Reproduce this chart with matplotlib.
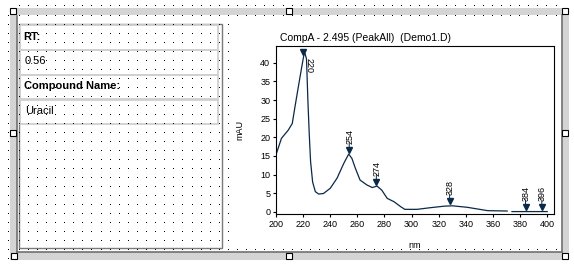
import numpy as np
import matplotlib
matplotlib.use('Agg')
import matplotlib.pyplot as plt
import matplotlib.transforms as mtransforms
from matplotlib.patches import Rectangle

plt.rcParams['font.family'] = ['Liberation Sans', 'DejaVu Sans']

# spectrum (nm, mAU); nan = small gap in the trace
wavelength = [200, 204, 209, 212, 214, 216.5, 219, 221, 222.5, 223.5, 224.5,
              225.5, 227, 229, 231.5, 235, 240, 245, 250, 253.6, 256, 258.6,
              262, 267, 271, 274.5, 278, 282, 287, 292, 295, 304, 314, 324,
              330, 341, 356, 370.5, 372, 374, 385, 400]
absorbance = [15.3, 19.7, 21.9, 23.7, 28.2, 33.6, 38.9, 43.0, 41.0, 30.0, 21.0,
              13.5, 8.0, 5.4, 4.75, 4.9, 6.3, 9.0, 13.0, 15.5, 14.3, 11.6,
              8.5, 7.2, 6.5, 6.9, 5.8, 3.6, 2.7, 1.35, 0.65, 0.65, 1.1, 1.5,
              1.6, 1.2, 0.3, 0.2, np.nan, 0.05, 0.05, 0.05]

peak_nm = [220, 254, 274, 328, 384, 396]
peak_val = [43.0, 15.5, 6.9, 1.6, 0.05, 0.05]
peak_label = ['220', '254', '274', '328', '384', '396']

x_ticks = list(range(200, 401, 20))
y_ticks = list(range(0, 41, 5))

title = 'CompA - 2.495 (PeakAll)  (Demo1.D)'
fields = ['RT:', '0.56', 'Compound Name:', 'Uracil']

W, H = 574, 266
fig = plt.figure(figsize=(W / 100, H / 100), dpi=100)
fig.patch.set_facecolor('white')

# background canvas in pixel coords
bg = fig.add_axes([0, 0, 1, 1])
bg.set_xlim(0, W)
bg.set_ylim(H, 0)
bg.axis('off')

gray = '#d4d4d4'
dark = '#707070'

# dotted design grid
cols = np.arange(18.7, 561, 9.1)
rows = np.arange(16.3, 252, 9.0)
dx, dy = [], []
for yy in rows:
    for xx in cols:
        if xx > 234 and 17 < yy < 245:
            continue
        dx.append(xx)
        dy.append(yy)
# margins outside the frame
for xx in cols:
    dx.append(xx)
    dy.append(6)
for yy in np.arange(16.3, 262, 9.0):
    dx.append(8)
    dy.append(yy)
bg.plot(dx, dy, ',', color='black')

# frame bands
bg.add_patch(Rectangle((10, 8), 559, 7, color=gray, lw=0))
bg.add_patch(Rectangle((10, 8), 7, 252, color=gray, lw=0))
bg.add_patch(Rectangle((562, 8), 7, 252, color=gray, lw=0))
bg.add_patch(Rectangle((10, 252), 559, 8, color=gray, lw=0))
bg.plot([16.8, 16.8], [16, 252], color=dark, lw=1.2)
bg.plot([16.8, 562], [251.8, 251.8], color=dark, lw=1.2)
bg.plot([561.8, 561.8], [15, 252], color=dark, lw=1.2)

# selection handles
for hx, hy in [(13, 11), (288.7, 11), (565, 11), (13.3, 133), (565, 133),
               (13.5, 255.5), (288.7, 256), (565, 256)]:
    bg.add_patch(Rectangle((hx - 3, hy - 3), 6, 6, facecolor='white',
                           edgecolor='black', lw=0.8, zorder=5))

# left info panel
bg.add_patch(Rectangle((19, 24), 202.5, 224, fill=False, edgecolor='#7a7a7a', lw=1.0))
row_top = [25, 50, 74.5, 99.5]
for i, txt in enumerate(fields):
    bg.add_patch(Rectangle((20.3, row_top[i]), 198, 24.5, fill=False,
                           edgecolor='#d0d0d0', lw=1.3))
    bold = i % 2 == 0
    bg.text(23.5 if bold else 25, row_top[i] + 11.5, txt, fontsize=8,
            fontweight='bold' if bold else 'normal', va='center', ha='left')

# chart texts
bg.text(280, 41, title, fontsize=7.5, ha='left', va='baseline')
bg.text(240, 130, 'mAU', fontsize=6.5, rotation=90, ha='center', va='center')
bg.text(415, 245.5, 'nm', fontsize=6.5, ha='center', va='center')

ax = fig.add_axes([276 / W, 1 - 214 / H, (554 - 276) / W, (214 - 46) / H])
line_col = '#0a2848'
ax.plot(wavelength, absorbance, color=line_col, lw=0.9)
ax.set_xlim(200, 405)
ax.set_ylim(-0.6, 44.5)
ax.set_xticks(x_ticks)
ax.set_yticks(y_ticks)
ax.tick_params(direction='out', length=2.2, width=0.8, pad=2, labelsize=6.5)
for s in ax.spines.values():
    s.set_linewidth(0.8)

lift = ax.transData + mtransforms.ScaledTranslation(0, 3.2 / 72, fig.dpi_scale_trans)
for nm, v, lab in zip(peak_nm, peak_val, peak_label):
    if lab == '220':
        # top peak: label hangs below, to the right
        ax.plot(nm, v, 'v', color=line_col, ms=4, clip_on=False)
        ax.annotate(lab, (nm, v), xytext=(4.5, -4.5), textcoords='offset points',
                    rotation=270, ha='center', va='top', fontsize=6.5)
    else:
        ax.plot(nm, v, 'v', color=line_col, ms=4, transform=lift)
        ax.annotate('', (nm, v), xytext=(0, 8.5), textcoords='offset points',
                    arrowprops=dict(arrowstyle='-', color=line_col, lw=0.7,
                                    shrinkA=0, shrinkB=5))
        ax.annotate(lab, (nm, v), xytext=(0.5, 7.5), textcoords='offset points',
                    rotation=90, ha='center', va='bottom', fontsize=6.5)

fig.savefig('out.png', dpi=100)
